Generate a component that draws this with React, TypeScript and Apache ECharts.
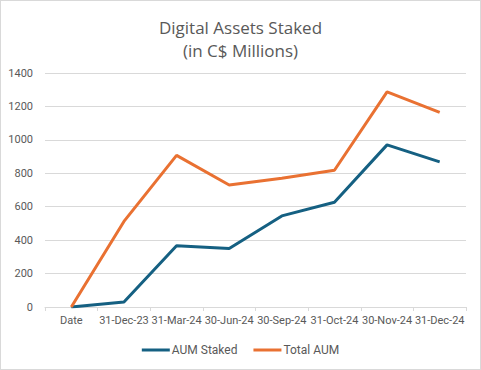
import React, { useEffect, useRef } from "react";
import * as echarts from "echarts";

const categories = ["Date", "31-Dec-23", "31-Mar-24", "30-Jun-24", "30-Sep-24", "31-Oct-24", "30-Nov-24", "31-Dec-24"];
const aumStaked = [0, 30, 367, 350, 545, 627, 970, 868];
const totalAum = [0, 512, 907, 730, 770, 818, 1287, 1165];

const FONT = "'Open Sans', 'Noto Sans', sans-serif";
const AXFONT = "Roboto, 'Noto Sans', sans-serif";

export default function App() {
  const ref = useRef<HTMLDivElement>(null);
  useEffect(() => {
    if (!ref.current) return;
    const chart = echarts.init(ref.current, null, { renderer: "svg" });
    chart.setOption({
      animation: false,
      backgroundColor: "#ffffff",
      title: {
        text: "Digital Assets Staked\n(in C$ Millions)",
        left: "center",
        top: 10,
        textStyle: { fontFamily: FONT, fontSize: 17, fontWeight: "normal", color: "#595959", lineHeight: 23 },
      },
      grid: { left: 44, right: 14, top: 72, bottom: 62 },
      legend: {
        bottom: 8,
        left: "center",
        itemWidth: 28,
        itemHeight: 3,
        itemGap: 16,
        icon: "rect",
        textStyle: { fontFamily: AXFONT, fontSize: 12, color: "#595959", padding: [0, 0, 0, -3] },
        data: ["AUM Staked", "Total AUM"],
      },
      xAxis: {
        type: "category",
        data: categories,
        boundaryGap: true,
        axisLine: { lineStyle: { color: "#d9d9d9" } },
        axisTick: { show: true, length: 4, lineStyle: { color: "#d9d9d9" } },
        axisLabel: { fontFamily: AXFONT, fontSize: 11, color: "#595959", margin: 8, interval: 0 },
      },
      yAxis: {
        type: "value",
        min: 0,
        max: 1400,
        interval: 200,
        axisLine: { show: false },
        axisTick: { show: false },
        splitLine: { lineStyle: { color: "#d9d9d9" } },
        axisLabel: { fontFamily: AXFONT, fontSize: 11, color: "#595959", margin: 12, formatter: (v: number) => String(v) },
      },
      series: [
        {
          name: "AUM Staked",
          type: "line",
          data: aumStaked,
          showSymbol: false,
          symbol: "none",
          lineStyle: { color: "#156082", width: 3 },
          itemStyle: { color: "#156082" },
        },
        {
          name: "Total AUM",
          type: "line",
          data: totalAum,
          showSymbol: false,
          symbol: "none",
          lineStyle: { color: "#E97132", width: 3 },
          itemStyle: { color: "#E97132" },
        },
      ],
    });
    return () => chart.dispose();
  }, []);
  return (
    <div
      style={{
        position: "fixed",
        left: 0,
        top: 0,
        width: 481,
        height: 370,
        boxSizing: "border-box",
        border: "1px solid #d9d9d9",
        background: "#fff",
      }}
    >
      <div ref={ref} style={{ width: 479, height: 368 }} />
    </div>
  );
}
